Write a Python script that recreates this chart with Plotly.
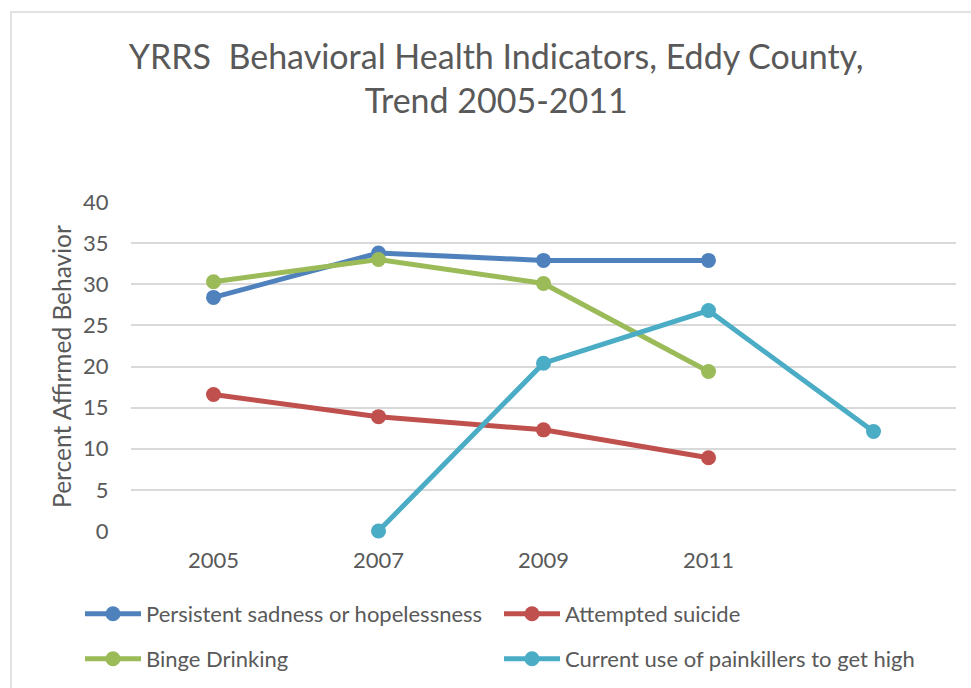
import plotly.graph_objects as go

categories = ["2005", "2007", "2009", "2011", " "]
sadness = [28.4, 33.8, 32.9, 32.9, None]
suicide = [16.6, 13.9, 12.3, 8.9, None]
binge = [30.3, 33.0, 30.1, 19.4, None]
painkillers = [None, 0.0, 20.4, 26.8, 12.1]
y_ticks = [0, 5, 10, 15, 20, 25, 30, 35, 40]

series = [
    ("Persistent sadness or hopelessness", sadness, "#4F81BD", "legend"),
    ("Attempted suicide", suicide, "#C0504D", "legend"),
    ("Binge Drinking", binge, "#9BBB59", "legend2"),
    ("Current use of painkillers to get high", painkillers, "#4BACC6", "legend2"),
]

FONT = "Lato, Carlito, Calibri, sans-serif"
GREY = "#595959"

fig = go.Figure()
for name, vals, col, leg in series:
    fig.add_trace(go.Scatter(
        x=categories, y=vals, name=name, mode="lines+markers",
        line=dict(color=col, width=5),
        marker=dict(color=col, size=15),
        connectgaps=False, cliponaxis=False, legend=leg,
    ))

W, H = 971, 688
L, R, T, B = 131, 15, 202, 157
pw, ph = W - L - R, H - T - B


def px_x(x):
    return (x - L) / pw


def px_y(y):
    return (H - B - y) / ph


legend_common = dict(
    orientation="h", xanchor="left", yanchor="middle",
    entrywidth=348, entrywidthmode="pixels", itemwidth=56,
    font=dict(size=22, color=GREY, family=FONT),
    bgcolor="rgba(0,0,0,0)",
)

fig.update_layout(
    width=W, height=H,
    margin=dict(l=L, r=R, t=T, b=B, autoexpand=False),
    paper_bgcolor="white", plot_bgcolor="white",
    font=dict(family=FONT, color=GREY),
    title=dict(
        text="YRRS  Behavioral Health Indicators, Eddy County,<br>Trend 2005-2011",
        x=0.511, xanchor="center", y=1 - 69 / H, yanchor="top",
        font=dict(family=FONT, size=34, color=GREY),
    ),
    xaxis=dict(
        type="category", categoryorder="array", categoryarray=categories,
        range=[-0.5, 4.5], showgrid=False, zeroline=False, showline=False,
        ticks="outside", ticklen=10, tickcolor="rgba(0,0,0,0)",
        tickfont=dict(size=22, color=GREY, family=FONT),
    ),
    yaxis=dict(
        range=[0, 40], tickvals=y_ticks, showgrid=True,
        gridcolor="#D9D9D9", gridwidth=1.5, zeroline=False, showline=False,
        ticks="outside", ticklen=17, tickcolor="rgba(0,0,0,0)",
        tickfont=dict(size=22, color=GREY, family=FONT),
        title=dict(text="Percent Affirmed Behavior", standoff=4,
                   font=dict(size=24.5, color=GREY, family=FONT)),
    ),
    legend=dict(x=px_x(80), y=px_y(614), **legend_common),
    legend2=dict(x=px_x(80), y=px_y(659), **legend_common),
    shapes=[dict(type="rect", xref="paper", yref="paper",
                 x0=px_x(11), x1=px_x(1100), y0=px_y(800), y1=px_y(12),
                 line=dict(color="#D9D9D9", width=1.5))],
)

fig.write_html("out.html", config={"displayModeBar": False},
               post_script="document.body.style.margin='0';")
